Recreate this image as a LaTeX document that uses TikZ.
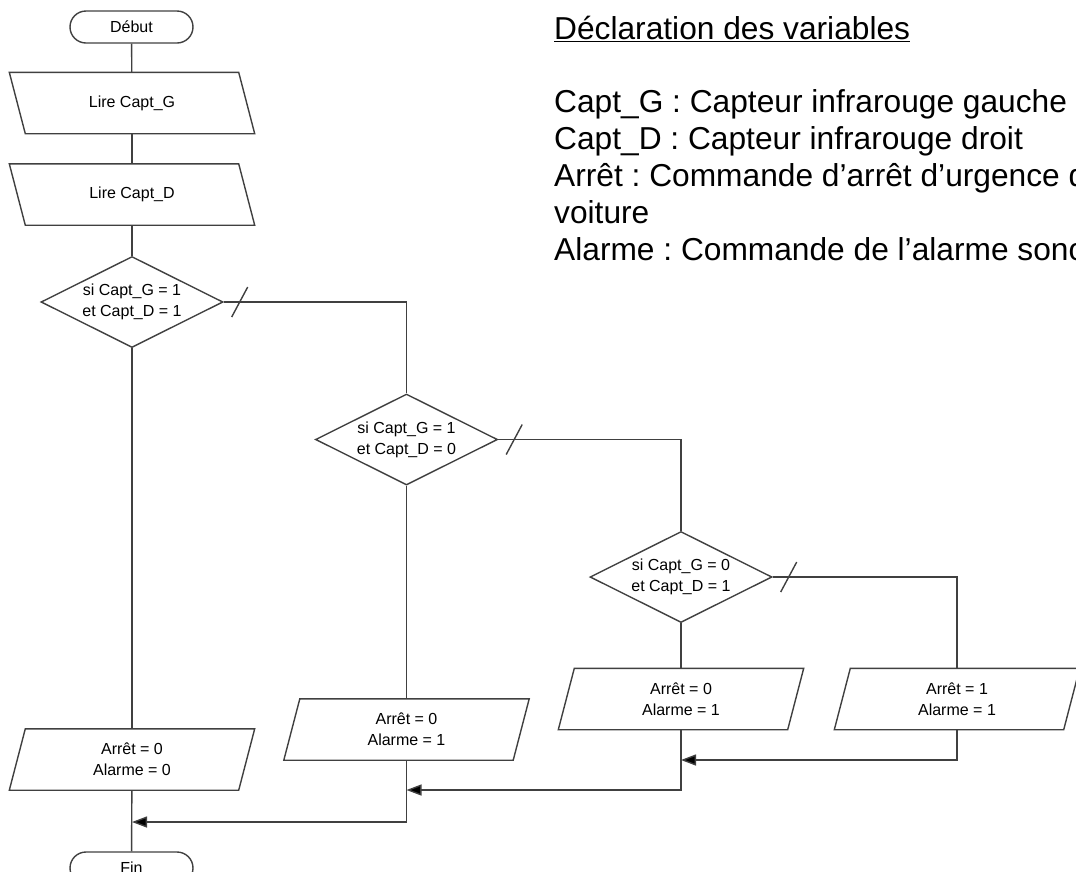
\documentclass[tikz,border=0pt]{standalone}
\usepackage{fontspec}
\setmainfont{Liberation Sans}
\usetikzlibrary{shapes.geometric,arrows.meta}
\frenchspacing
\newcommand\flowfont{\fontsize{16}{21}\selectfont}
\newcommand\declfont{\fontsize{31.7}{37}\selectfont}
\newcommand\drawoutpara[1]{\draw[line] ([xshift=8pt]#1.north west) -- ([xshift=8pt]#1.north east) -- ([xshift=-8pt]#1.south east) -- ([xshift=-8pt]#1.south west) -- cycle;}
\newcommand\drawinpara[1]{\draw[line] ([xshift=-8pt]#1.north west) -- ([xshift=-8pt]#1.north east) -- ([xshift=8pt]#1.south east) -- ([xshift=8pt]#1.south west) -- cycle;}
\begin{document}
\begin{tikzpicture}[x=1pt,y=-1pt,
  line/.style={draw=black!75, line width=1.4pt},
  term/.style={line, rounded corners=16pt, minimum width=123pt, minimum height=32pt, inner sep=0pt, font=\flowfont},
  dia/.style={line, diamond, shape aspect=2, minimum width=182pt, minimum height=91pt, inner sep=0pt, align=center, font=\flowfont},
  pbox/.style={minimum width=229pt, minimum height=61pt, inner sep=0pt, align=center, font=\flowfont},
  arr/.style={line, -{Triangle[length=15pt,width=11pt,fill=black]}},
  decl/.style={anchor=base west, inner sep=0pt, font=\declfont}
]
\useasboundingbox (0,0) rectangle (1076,871);
\clip (0,0) rectangle (1076,871);

% main column
\node[term] (debut) at (131.5,27) {Début};
\node[pbox] (lg) at (132,103) {Lire Capt\_G};
\node[pbox] (ld) at (132,194.5) {Lire Capt\_D};
\drawinpara{lg}
\drawinpara{ld}
\node[dia] (d1) at (132,302) {si Capt\_G = 1\\et Capt\_D = 1};
\node[dia] (d2) at (406.5,439.5) {si Capt\_G = 1\\et Capt\_D = 0};
\node[dia] (d3) at (681,577) {si Capt\_G = 0\\et Capt\_D = 1};

\node[pbox] (b1) at (132,759.5) {Arrêt = 0\\Alarme = 0};
\node[pbox] (b2) at (406.5,729.5) {Arrêt = 0\\Alarme = 1};
\node[pbox] (b3) at (681,699) {Arrêt = 0\\Alarme = 1};
\node[pbox] (b4) at (957,699) {Arrêt = 1\\Alarme = 1};
\drawoutpara{b1}
\drawoutpara{b2}
\drawoutpara{b3}
\drawoutpara{b4}

\node[term] (fin) at (131.5,868) {Fin};

% connectors
\draw[line] (debut) -- (lg);
\draw[line] (lg) -- (ld);
\draw[line] (ld) -- (d1);
\draw[line] (d1) -- (b1);
\draw[line] (b1) -- (fin);
\draw[line] (d2) -- (b2);
\draw[line] (d3) -- (b3);
\draw[line] (d1.east) -| (d2.north);
\draw[line] (d2.east) -| (d3.north);
\draw[line] (d3.east) -| (b4.north);

% slashes on "non" branches
\draw[line] ([shift={(8,15)}]d1.east) -- ([shift={(24,-15)}]d1.east);
\draw[line] ([shift={(8,15)}]d2.east) -- ([shift={(24,-15)}]d2.east);
\draw[line] ([shift={(8,15)}]d3.east) -- ([shift={(24,-15)}]d3.east);

% merges
\coordinate (j1) at (132,822);
\coordinate (j2) at (406.5,790);
\coordinate (j3) at (681,760);
\draw[arr] (b2.south) |- (j1);
\draw[arr] (b3.south) |- (j2);
\draw[arr] (b4.south) |- (j3);

% declarations
\node[decl] (t0) at (554,39) {\underline{Déclaration des variables}};
\node[decl] (t1) at (554,112) {Capt\_G : Capteur infrarouge gauche};
\node[decl] (t2) at (554,149) {Capt\_D : Capteur infrarouge droit};
\node[decl] (t3) at (554,186) {Arrêt : Commande d’arrêt d’urgence de la};
\node[decl] (t4) at (554,223) {voiture};
\node[decl] (t5) at (554,260) {Alarme : Commande de l’alarme sonore};
\end{tikzpicture}
\end{document}
